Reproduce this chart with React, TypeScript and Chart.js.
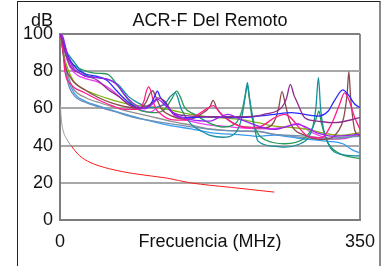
import React, { useEffect, useRef } from 'react';
import { Chart, registerables } from 'chart.js';

Chart.register(...registerables);

const titleText = 'ACR-F Del Remoto';
const yUnit = 'dB';
const xTickValues = [0, 175, 350];
const xTickLabels = ['0', 'Frecuencia (MHz)', '350'];
const yTickStep = 20;

// Limit line (gray part + red part)
const limitGrayF = [0.3, 1, 2, 3.5, 5.5, 8, 10.5, 13];
const limitGrayV = [62, 57, 52, 48.4, 45.5, 43.5, 41.5, 40];
const limitRedF = [13, 17, 23, 35, 58, 85, 125, 152, 200, 250];
const limitRedV = [40, 37.5, 34.5, 31, 27.5, 25, 22.5, 20, 17.5, 15];

// Pair combinations
const violetF = [0, 3, 6, 9, 13, 17, 23, 29, 44, 56, 63, 68, 75, 87, 99, 107, 114, 122, 134, 153, 175, 185, 196, 211, 250, 277, 300, 320, 350];
const violetV = [100, 99, 94, 88, 84, 81, 79, 77.4, 76.5, 75.6, 74, 72, 67.5, 62.2, 59.8, 62, 64.8, 62, 56.8, 54, 53.2, 55, 56.8, 54, 48.7, 51.4, 46.9, 45, 46];

const purpleF = [0, 2, 5, 9, 15, 23, 29, 37, 44, 56, 68, 83, 95, 108, 114, 122, 132, 150, 175, 200, 230, 240, 258.5, 264, 268.8, 273, 276, 285.5, 300, 320, 350];
const purpleV = [100, 98, 92, 86, 81, 79, 77.5, 76.5, 75, 70.2, 66.6, 61.2, 60.4, 63, 65.7, 64, 57.7, 56, 55.5, 55.5, 56, 57, 60.4, 65, 72.9, 67, 64, 55, 53.2, 52.3, 55];

const blueF = [0, 4, 8, 13, 20, 30, 45, 55, 65, 78, 90, 100, 106, 110, 113.6, 117, 124, 131, 146, 175, 211, 250, 270, 301, 313, 320, 330, 336, 344, 350];
const blueV = [100, 96, 90, 85, 81, 78.5, 77, 75, 70, 64, 60.4, 60, 62.5, 66, 69.3, 66, 62.2, 57.7, 55, 55.5, 55, 56.8, 57.7, 55.9, 58.6, 64, 70, 67.5, 62.2, 60.4];

const pinkF = [0, 3.5, 5.4, 13, 28.8, 44, 60, 75.5, 91, 98, 100.8, 103.5, 106, 110.5, 118, 130, 145.5, 161, 170, 178.5, 188, 204, 219.5, 235, 250.5, 262, 289.5, 305, 316.6, 326, 332, 336, 344, 350];
const pinkV = [100, 91.7, 81, 72.9, 68.4, 64.8, 61.6, 59.5, 59.5, 64, 69.3, 71.6, 69.3, 61.2, 56.8, 54, 53.7, 56.8, 59.5, 61.5, 56.8, 51.4, 49.6, 50.5, 55, 56.8, 45, 44.2, 51.4, 62, 68.4, 65.7, 55, 48.7];

const brownF = [0, 2, 5, 13, 29, 44, 60, 76, 91, 100, 105, 108, 112, 118, 130, 150, 165, 175, 178.6, 183, 196, 215, 240, 250, 255, 259, 263, 268, 289, 309, 325, 331, 335, 337, 339, 341, 344, 350];
const brownV = [100, 96, 85, 76, 70, 66, 63, 61, 60, 63, 68, 69.5, 66, 60, 56, 54, 57, 61, 64.3, 60, 54, 50, 49.6, 53, 60, 69, 62, 53, 45, 43.3, 48, 55, 68, 79.7, 66, 57, 48, 45];

const tealF = [0, 2, 5.4, 17, 29, 44, 56, 67.7, 79.4, 91, 106.6, 122, 128, 134.6, 141.6, 153, 165, 175, 190, 205, 212, 216, 218.6, 221, 225, 231, 250, 262, 278, 289.5, 295, 298.5, 301.5, 304, 307, 314, 328, 350];
const tealV = [100, 98, 92.6, 84.6, 78.3, 76.5, 75.6, 72.9, 66.6, 63, 60.4, 62.2, 66, 68.4, 59.5, 51.4, 47.8, 45.5, 44.5, 47, 55, 66, 73.8, 66, 55, 42.4, 39.7, 39.2, 40.6, 44.2, 50, 60, 76.5, 60, 50, 40, 35.3, 34.4];

const greenF = [0, 3, 8, 17, 36.6, 48, 56, 67.7, 79.4, 91, 102.7, 114, 122, 130, 136, 140, 145.5, 157, 175, 190, 205, 213, 216, 218.6, 221, 224, 230, 240, 262, 285, 295, 300, 302, 305, 312, 325, 350];
const greenV = [100, 95, 88, 83, 79.2, 78.8, 78.3, 72, 64.8, 59.5, 58, 57.7, 59.5, 64.8, 69.3, 66.6, 60.4, 56.8, 52, 50, 52, 60, 67, 72, 65, 55, 47, 43, 41, 44, 50, 56, 58.6, 52, 42, 36, 33];

const oliveF = [0, 3, 7, 12, 17, 25, 36.6, 56, 75.5, 95, 114, 134, 153, 175, 211, 231, 250, 273, 289, 309, 328, 350];
const oliveV = [100, 92, 84, 78, 74, 71, 68.4, 65.2, 62.7, 61.3, 60.4, 58.6, 56.8, 55.3, 54, 52.3, 50.5, 49.6, 48.7, 46.5, 45.5, 47];

const steelF = [0, 1.6, 5.4, 9.3, 17, 29, 44, 64, 83, 103, 126, 153, 175, 211, 231, 250, 270, 290, 310, 330, 350];
const steelV = [100, 98.9, 84.6, 73.8, 66.6, 63.4, 60.9, 58.2, 55.5, 53.7, 51.9, 50.1, 48.7, 47.8, 47.8, 46, 45.5, 45, 44, 44.5, 45];

const lightBlueF = [0, 2, 5, 9, 17, 29, 44, 64, 83, 103, 126, 153, 175, 211, 231, 250, 270, 290, 310, 330, 340, 350];
const lightBlueV = [100, 96, 86, 76, 68, 64, 61.5, 58.5, 56, 53.5, 51, 49, 47, 45.8, 45, 45.7, 44.5, 43.3, 42.4, 41, 38, 36];

const grayF = [0, 3, 8, 15, 29, 50, 75, 103, 130, 153, 175, 211, 231, 250, 270, 290, 310, 330, 350];
const grayV = [100, 92, 80, 71, 66, 62.5, 59, 56, 53, 51, 49, 47.8, 47.5, 46, 45, 44, 43.5, 44, 46];

const magentaF = [0, 3, 7, 12, 20, 30, 45, 60, 75, 90, 105, 115, 122, 134, 153, 175, 190, 211, 240, 262, 277, 290, 305, 320, 335, 350];
const magentaV = [100, 95, 88, 82, 78, 76, 74, 70, 64, 60, 58, 61, 62, 56, 53, 51, 50.5, 49.5, 49, 50, 52, 48, 45, 43.5, 44, 47];

const FONT = '"Liberation Sans", Arial, Helvetica, sans-serif';

function series(label: string, F: number[], V: number[], color: string, width = 1.3) {
  return {
    label,
    data: F.map((f, i) => ({ x: f, y: V[i] })),
    borderColor: color,
    backgroundColor: color,
    borderWidth: width,
    pointRadius: 0,
    fill: false,
    cubicInterpolationMode: 'monotone' as const,
  };
}

const unitLabelPlugin = {
  id: 'unitLabel',
  afterDraw(chart: any) {
    const { ctx, chartArea } = chart;
    ctx.save();
    ctx.font = `18px ${FONT}`;
    ctx.fillStyle = '#111';
    ctx.textAlign = 'right';
    ctx.textBaseline = 'middle';
    ctx.fillText(yUnit, chartArea.left - 7, chartArea.top - 13.2);
    ctx.restore();
  },
};

export default function App() {
  const ref = useRef<HTMLCanvasElement>(null);

  useEffect(() => {
    if (!ref.current) return;
    Chart.defaults.font.family = FONT;
    const chart = new Chart(ref.current, {
      type: 'line',
      data: {
        datasets: [
          series('Violeta', violetF, violetV, '#9b22f0'),
          series('Púrpura', purpleF, purpleV, '#8e2a8e'),
          series('Azul', blueF, blueV, '#2a2aff'),
          series('Rosa', pinkF, pinkV, '#ff1f8f'),
          series('Marrón', brownF, brownV, '#8b4a4a'),
          series('Turquesa', tealF, tealV, '#178f9f'),
          series('Verde', greenF, greenV, '#2a9a5a'),
          series('Oliva', oliveF, oliveV, '#80b412'),
          series('Acero', steelF, steelV, '#6f8fb3'),
          series('Celeste', lightBlueF, lightBlueV, '#3a9cf0'),
          series('Gris', grayF, grayV, '#909090'),
          series('Magenta', magentaF, magentaV, '#ee3bee'),
          series('Límite', limitGrayF, limitGrayV, '#999999', 1),
          series('Límite rojo', limitRedF, limitRedV, '#ff1a1a', 1),
        ],
      },
      options: {
        responsive: false,
        animation: false,
        devicePixelRatio: 1,
        layout: { padding: { left: 0, right: 31, top: 0, bottom: 0 } },
        plugins: {
          legend: { display: false },
          tooltip: { enabled: false },
          title: {
            display: true,
            text: titleText,
            fullSize: false,
            color: '#111',
            font: { size: 18, weight: 'normal' },
            padding: { top: 10, bottom: 2.4 },
          },
        },
        scales: {
          x: {
            type: 'linear',
            min: 0,
            max: 350,
            afterBuildTicks: (s: any) => {
              s.ticks = xTickValues.map((v) => ({ value: v }));
            },
            afterFit: (s: any) => {
              s.height = 46;
            },
            ticks: {
              autoSkip: false,
              maxRotation: 0,
              padding: 11,
              color: '#111',
              font: { size: 18 },
              callback: (_v: any, i: number) => xTickLabels[i] ?? '',
            },
            grid: {
              drawTicks: false,
              lineWidth: 2,
              color: (c: any) => (c.tick && c.tick.value === 350 ? '#8c8c8c' : 'rgba(0,0,0,0)'),
            },
            border: { display: true, color: '#7c7c7c', width: 2 },
          },
          y: {
            min: 0,
            max: 100,
            afterFit: (s: any) => {
              s.width = 60;
            },
            ticks: { stepSize: yTickStep, padding: 7, color: '#111', font: { size: 18 } },
            grid: {
              drawTicks: false,
              lineWidth: 2,
              color: (c: any) => (c.tick && c.tick.value === 100 ? '#808080' : '#a8a8a8'),
            },
            border: { color: '#7c7c7c', width: 2 },
          },
        },
      } as any,
      plugins: [unitLabelPlugin],
    });
    return () => chart.destroy();
  }, []);

  return (
    <div style={{ position: 'fixed', left: 0, top: 0, width: 391, height: 266, overflow: 'hidden', background: '#fff' }}>
      <div
        style={{
          position: 'absolute',
          left: 17,
          top: 1,
          width: 361,
          height: 320,
          borderLeft: '1px solid #222',
          borderTop: '1px solid #222',
          borderRight: '2px solid #8a8a8a',
        }}
      />
      <canvas ref={ref} width={391} height={266} style={{ position: 'absolute', left: 0, top: 0 }} />
    </div>
  );
}
